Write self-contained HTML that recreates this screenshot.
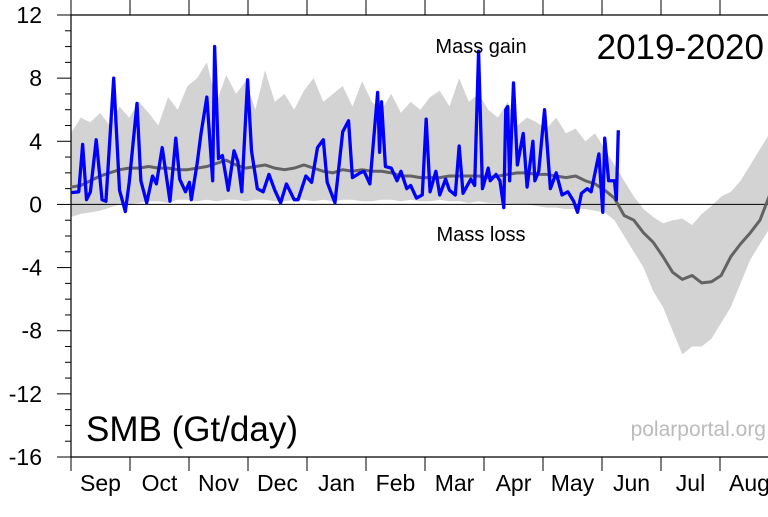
<!DOCTYPE html>
<html><head><meta charset="utf-8"><style>
html,body{margin:0;padding:0;background:#fff;}
svg{display:block;font-family:"Liberation Sans",sans-serif;}
</style></head><body>
<svg id="chart" width="768" height="517" viewBox="0 0 768 517" xmlns="http://www.w3.org/2000/svg">
<g id="band"></g>
<g id="axes"></g>
<g id="series"></g>
<text x="481" y="53" font-size="20" text-anchor="middle">Mass gain</text>
<text x="481" y="241" font-size="20" text-anchor="middle">Mass loss</text>
<text x="764" y="59" font-size="35" text-anchor="end">2019-2020</text>
<text x="86" y="441" font-size="35">SMB (Gt/day)</text>
<text x="766" y="436" font-size="21" fill="#bbbbbb" text-anchor="end">polarportal.org</text>
</svg>
<script>
const months = ["Sep","Oct","Nov","Dec","Jan","Feb","Mar","Apr","May","Jun","Jul","Aug"];
const yTicks = [12,8,4,0,-4,-8,-12,-16];
const bandUpper = [4.5,5.5,5.2,5.8,5.0,6.2,5.5,6.5,5.8,5.0,6.8,6.0,7.5,8.0,9.0,6.5,8.2,7.0,7.8,6.0,8.5,6.5,7.0,6.0,7.2,8.0,6.5,7.0,7.5,6.2,7.8,6.5,6.0,7.0,5.8,6.5,6.0,6.8,7.2,6.2,8.0,6.5,7.0,6.0,5.5,6.5,5.0,5.5,5.2,4.8,5.5,4.5,4.8,4.0,4.5,3.5,2.5,1.5,0.5,-0.3,-0.8,-1.2,-1.0,-0.9,-1.3,-0.6,-0.1,0.5,0.8,1.5,2.5,3.5,4.5,4.0];
const bandLower = [-0.8,-0.6,-0.5,-0.4,-0.2,0,0,0.1,0.2,0.2,0.1,0.3,0.3,0.2,0.3,0.2,0.3,0.3,0.2,0.3,0.3,0.2,0.2,0.3,0.3,0.2,0.3,0.2,0.3,0.3,0.2,0.2,0.3,0.3,0.2,0.3,0.2,0.2,0.3,0.2,0.2,0.1,0.2,0.1,0.1,0,0,0,-0.1,-0.2,-0.2,-0.3,-0.3,-0.3,-0.4,-0.5,-1.0,-2.0,-3.0,-4.0,-5.5,-6.5,-8.0,-9.5,-9.0,-9.0,-8.5,-7.5,-6.5,-5.0,-3.5,-2.5,-1.5,-1.0];
const meanVals = [1.1,1.2,1.5,1.8,2.0,2.2,2.3,2.3,2.4,2.3,2.3,2.2,2.2,2.3,2.4,2.6,2.8,2.5,2.3,2.4,2.5,2.3,2.2,2.3,2.5,2.3,2.1,2.0,2.2,2.1,2.2,2.1,2.1,2.0,1.8,1.8,1.7,1.7,1.7,1.8,1.8,1.8,1.8,1.7,1.8,1.9,2.0,2.0,1.9,1.9,1.8,1.7,1.8,1.5,1.3,0.9,0.4,-0.7,-1.0,-1.8,-2.4,-3.3,-4.3,-4.75,-4.5,-4.97,-4.9,-4.5,-3.3,-2.5,-1.8,-1.0,0.6,0.2];
const obsDays = [0,4,6,8,10,13,16,18,22,25,28,30,34,36,39,42,44,47,51,54,56,59,61,62,65,67,70,73,74,76,78,81,84,86,88,91,93,96,99,102,105,108,111,115,117,121,124,127,130,132,136,140,143,145,149,151,154,158,159,160,162,165,168,170,173,175,178,181,183,185,188,190,193,195,198,200,202,206,208,210,212,215,216,219,221,223,224,225,226,228,230,233,235,238,239,241,244,247,250,253,256,259,261,263,266,268,272,274,275,277,280,281,282];
const obsVals = [0.75,0.8,3.8,0.3,0.8,4.1,0.3,0.2,8.0,0.9,-0.45,1.4,6.4,1.5,0.1,1.8,1.3,3.6,0.2,4.2,1.6,0.8,1.4,0.3,2.6,4.5,6.8,1.5,10.0,2.9,3.1,0.9,3.4,2.7,0.8,7.9,3.4,1.0,0.8,1.9,0.9,0.1,1.3,0.3,0.3,1.8,1.4,3.6,4.1,1.4,0.1,4.6,5.3,1.7,2.0,2.1,1.3,7.1,3.3,6.5,2.4,2.3,1.5,2.1,1.0,1.2,0.4,0.6,5.4,0.8,2.1,0.6,1.6,0.9,0.6,3.7,0.7,1.6,1.2,9.7,1.0,2.3,1.5,1.9,1.5,-0.2,6.0,6.2,1.5,7.7,2.5,4.5,1.1,4.0,1.5,2.1,6.0,1.0,2.0,0.6,0.8,0.2,-0.5,0.7,1.0,0.8,3.2,-0.5,4.2,1.5,1.5,0.3,4.7];

const L=71,T=15,B=457,DAYPX=59/30.4;
const X=d=>L+d*DAYPX;
const Y=v=>T+(12-v)*(B-T)/28;
const NS="http://www.w3.org/2000/svg";
function mk(tag,attrs,parent){const e=document.createElementNS(NS,tag);for(const k in attrs)e.setAttribute(k,attrs[k]);parent.appendChild(e);return e;}
const band=document.getElementById('band'),axes=document.getElementById('axes'),series=document.getElementById('series');
let pts=bandUpper.map((v,i)=>X(i*5)+','+Y(v));
for(let i=bandLower.length-1;i>=0;i--)pts.push(X(i*5)+','+Y(bandLower[i]));
const bp=mk('polygon',{points:pts.join(' '),fill:'#d3d3d3'},band);


const z=mk('line',{x1:L,x2:768,y1:Y(0),y2:Y(0),stroke:'#000','stroke-width':1},axes);


mk('line',{x1:L,x2:768,y1:T,y2:T,stroke:'#000','stroke-width':1.2},axes);
mk('line',{x1:L,x2:768,y1:B,y2:B,stroke:'#000','stroke-width':1.2},axes);
mk('line',{x1:L,x2:L,y1:T,y2:B,stroke:'#000','stroke-width':1.2},axes);
for(let v=-16;v<=12;v++){const major=v%4===0;mk('line',{x1:L-(major?14:6),x2:L,y1:Y(v),y2:Y(v),stroke:'#000','stroke-width':1},axes);}
yTicks.forEach(v=>{const t=mk('text',{x:42,y:Y(v)+8,'font-size':23,'text-anchor':'end'},axes);t.textContent=v;

});
months.forEach((m,i)=>{const x0=X(i*30.4);
mk('line',{x1:x0,x2:x0,y1:0,y2:T,stroke:'#000','stroke-width':1},axes);
mk('line',{x1:x0,x2:x0,y1:B,y2:B+14,stroke:'#000','stroke-width':1},axes);
const t=mk('text',{x:X(i*30.4+15.2),y:491,'font-size':23,'text-anchor':'middle'},axes);t.textContent=m;

});
const ml=mk('polyline',{points:meanVals.map((v,i)=>X(i*5)+','+Y(v)).join(' '),fill:'none',stroke:'#636363','stroke-width':3,'stroke-linejoin':'round'},series);


const ol=mk('polyline',{points:obsDays.map((d,i)=>X(d)+','+Y(obsVals[i])).join(' '),fill:'none',stroke:'#0000ff','stroke-width':3.3,'stroke-linejoin':'round'},series);


</script>
</body></html>
